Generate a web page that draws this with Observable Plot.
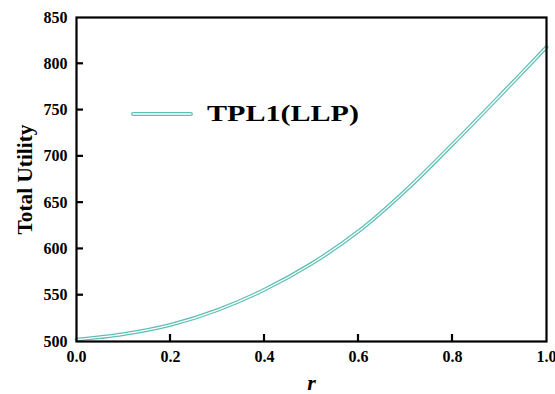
<!DOCTYPE html>
<html>
<head>
<meta charset="utf-8">
<script src="https://cdn.jsdelivr.net/npm/d3@7"></script>
<script src="https://cdn.jsdelivr.net/npm/@observablehq/plot@0.6"></script>
<style>
  html, body { margin: 0; padding: 0; background: white; }
  #chart { width: 555px; height: 394px; }
</style>
</head>
<body>
<div id="chart"></div>
<script>
// Data
const rValues = [0.0, 0.1, 0.2, 0.3, 0.4, 0.5, 0.6, 0.7, 0.8, 0.9, 1.0];
const totalUtility = [502, 508, 518, 534, 556, 584, 619, 663, 713, 765, 818];
const xTicks = [0.0, 0.2, 0.4, 0.6, 0.8, 1.0];
const yTicks = [500, 550, 600, 650, 700, 750, 800, 850];
const seriesName = "TPL1(LLP)";
const xLabel = "r";
const yLabel = "Total Utility";

const data = rValues.map((r, i) => ({r, u: totalUtility[i]}));
const teal = "#5fbfb6";
const font = "'Liberation Serif', 'Times New Roman', serif";

const plot = Plot.plot({
  width: 555,
  height: 394,
  marginLeft: 76,
  marginRight: 9,
  marginTop: 17,
  marginBottom: 53,
  style: {fontFamily: font, fontWeight: "bold", fontSize: "16px", color: "black", background: "white", overflow: "visible"},
  x: {domain: [0, 1]},
  y: {domain: [500, 850]},
  marks: [
    Plot.line(data, {x: "r", y: "u", stroke: teal, strokeWidth: 3.8, curve: "catmull-rom"}),
    Plot.line(data, {x: "r", y: "u", stroke: "white", strokeWidth: 1.3, curve: "catmull-rom"}),
    Plot.axisX(xTicks, {tickSize: 0, tickPadding: 9, tickFormat: d3.format(".1f"), label: null, fontSize: 16}),
    Plot.axisY(yTicks, {tickSize: 0, tickPadding: 9, tickFormat: d3.format("d"), label: null, fontSize: 16}),
    Plot.frame({stroke: "black", strokeWidth: 2.2}),
    Plot.text([xLabel], {frameAnchor: "bottom", dy: 48, fontSize: 22, fontStyle: "italic", fontWeight: "bold", textAnchor: "middle"}),
    Plot.text([yLabel], {frameAnchor: "left", dx: -52, rotate: -90, fontSize: 22, fontWeight: "bold", textAnchor: "middle"})
  ]
});

document.getElementById("chart").appendChild(plot);

const svg = d3.select(plot);
// stretch the y title to the reference's length
svg.selectAll("text").filter(function() { return this.textContent === yLabel; })
  .attr("textLength", 110).attr("lengthAdjust", "spacingAndGlyphs");

// Inward tick marks, positioned with Plot's own scales
const xs = plot.scale("x"), ys = plot.scale("y");
const x0 = xs.apply(xs.domain[0]);
const y0 = ys.apply(ys.domain[0]);
xTicks.slice(1, -1).forEach(t => {
  const px = xs.apply(t);
  svg.append("line").attr("x1", px).attr("x2", px).attr("y1", y0).attr("y2", y0 - 7)
    .attr("stroke", "black").attr("stroke-width", 2.2);
});
yTicks.slice(1, -1).forEach(t => {
  const py = ys.apply(t);
  svg.append("line").attr("x1", x0).attr("x2", x0 + 7).attr("y1", py).attr("y2", py)
    .attr("stroke", "black").attr("stroke-width", 2.2);
});

// Legend
const lg = svg.append("g");
lg.append("line").attr("x1", 133).attr("x2", 191).attr("y1", 114).attr("y2", 114)
  .attr("stroke", teal).attr("stroke-width", 3.8).attr("stroke-linecap", "round");
lg.append("line").attr("x1", 133).attr("x2", 191).attr("y1", 114).attr("y2", 114)
  .attr("stroke", "white").attr("stroke-width", 1.3).attr("stroke-linecap", "round");
lg.append("text").attr("x", 207).attr("y", 116)
  .attr("text-anchor", "start")
  .attr("dominant-baseline", "middle")
  .attr("font-family", font).attr("font-weight", "bold").attr("font-size", 23)
  .attr("textLength", 152).attr("lengthAdjust", "spacingAndGlyphs")
  .attr("fill", "black")
  .text(seriesName);
</script>
</body>
</html>
